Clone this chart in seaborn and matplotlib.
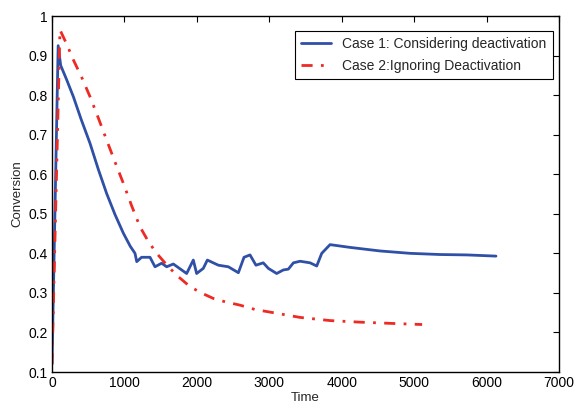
import matplotlib
matplotlib.use("Agg")
import matplotlib.pyplot as plt
import pandas as pd
import seaborn as sns

# Case 1: considering deactivation
time_case1 = [0, 85, 120, 200, 295, 400, 525, 640, 755, 870, 985, 1080, 1146, 1170,
              1237, 1353, 1422, 1514, 1583, 1675, 1859, 1951, 1997, 2089, 2145,
              2297, 2435, 2573, 2651, 2734, 2816, 2917, 2987, 3102, 3194, 3263,
              3333, 3425, 3563, 3655, 3724, 3839, 4115, 4529, 4943, 5357, 5725, 6130]
conv_case1 = [0.12, 0.925, 0.875, 0.84, 0.796, 0.74, 0.678, 0.612, 0.551, 0.498, 0.451,
              0.418, 0.40, 0.379, 0.39, 0.39, 0.366, 0.375, 0.366, 0.373, 0.349,
              0.383, 0.349, 0.362, 0.383, 0.37, 0.366, 0.351, 0.39, 0.396, 0.37,
              0.376, 0.362, 0.349, 0.358, 0.36, 0.376, 0.38, 0.376, 0.368, 0.40,
              0.422, 0.415, 0.406, 0.40, 0.397, 0.396, 0.393]

# Case 2: ignoring deactivation
time_case2 = [0, 110, 200, 295, 410, 525, 640, 755, 870, 985, 1100, 1215, 1330, 1445,
              1607, 1750, 1905, 2060, 2227, 2400, 2596, 2803, 3055, 3425, 3839, 4253,
              4667, 5110]
conv_case2 = [0.12, 0.965, 0.93, 0.889, 0.845, 0.796, 0.742, 0.686, 0.631, 0.577,
              0.52, 0.467, 0.43, 0.40, 0.366, 0.34, 0.316, 0.30, 0.286, 0.277, 0.269,
              0.258, 0.25, 0.238, 0.23, 0.226, 0.223, 0.22]

x_ticks = [0, 1000, 2000, 3000, 4000, 5000, 6000, 7000]
y_ticks = [0.1, 0.2, 0.3, 0.4, 0.5, 0.6, 0.7, 0.8, 0.9, 1.0]
y_tick_labels = ["0.1", "0.2", "0.3", "0.4", "0.5", "0.6", "0.7", "0.8", "0.9", "1"]

sns.set_style("white")
plt.rcParams["font.family"] = ["Liberation Sans", "DejaVu Sans"]

df1 = pd.DataFrame({"Time": time_case1, "Conversion": conv_case1})
df2 = pd.DataFrame({"Time": time_case2, "Conversion": conv_case2})

fig = plt.figure(figsize=(5.76, 4.03), dpi=100)
ax = fig.add_axes([52 / 576, 1 - 372 / 403, 507 / 576, 356 / 403])

sns.lineplot(data=df1, x="Time", y="Conversion", sort=False, ax=ax,
             color="#2f50a6", linewidth=2, label="Case 1: Considering deactivation")
sns.lineplot(data=df2, x="Time", y="Conversion", sort=False, ax=ax,
             color="#ee2a24", linewidth=2, linestyle=(0, (4, 3, 1, 3)),
             label="Case 2:Ignoring Deactivation")

ax.set_xlim(0, 7000)
ax.set_ylim(0.1, 1.0)
ax.set_xticks(x_ticks)
ax.set_xticklabels([str(t) for t in x_ticks])
ax.set_yticks(y_ticks)
ax.set_yticklabels(y_tick_labels)
ax.tick_params(direction="in", length=4, width=0.8, labelsize=10,
               top=True, right=True, colors="black", pad=3)
for side in ax.spines.values():
    side.set_color("black")
    side.set_linewidth(1.0)
ax.set_xlabel("Time", fontsize=9.5, labelpad=1)
ax.set_ylabel("Conversion", fontsize=9.5, labelpad=4)

leg = ax.legend(loc="upper right", bbox_to_anchor=(1 - 6 / 507, 1 - 15 / 356),
                borderaxespad=0, fontsize=10, frameon=True, fancybox=False,
                edgecolor="black", framealpha=1, handlelength=2.2,
                borderpad=0.45, labelspacing=0.55)
leg.get_frame().set_linewidth(0.8)

fig.savefig("out.png", dpi=100)
